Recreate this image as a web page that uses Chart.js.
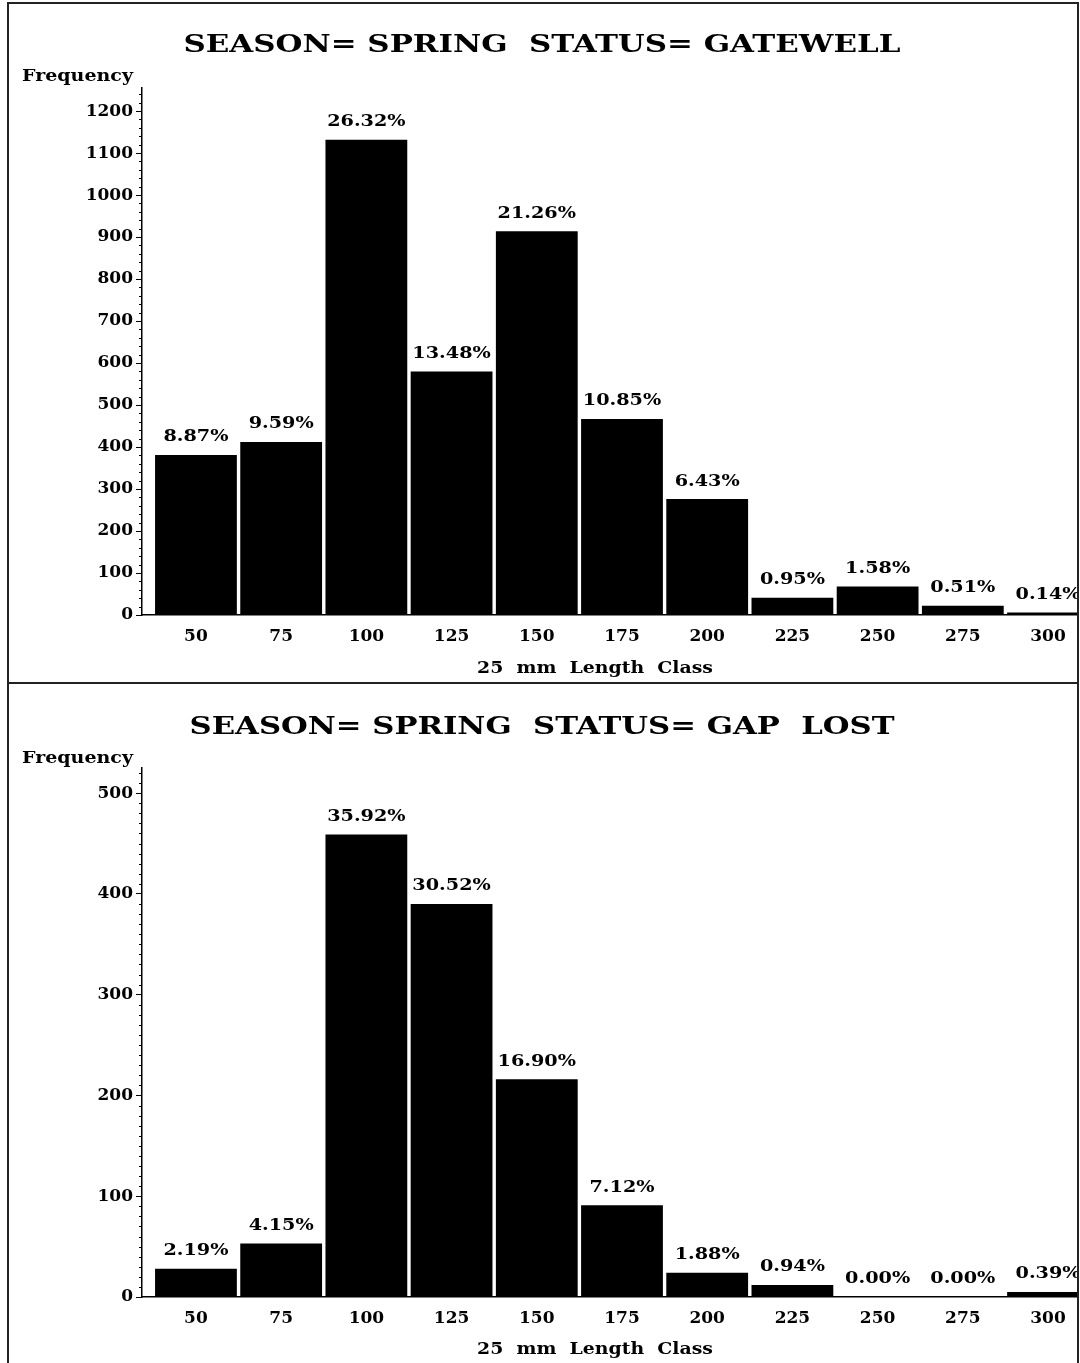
<!DOCTYPE html>
<html>
<head>
<meta charset="utf-8">
<script src="https://cdn.jsdelivr.net/npm/chart.js@4/dist/chart.umd.min.js"></script>
<style>
  body { margin: 0; background: #fff; width: 1080px; height: 1363px; overflow: hidden; }
  .frame { position: absolute; left: 7px; top: 2px; width: 1068px; height: 1361px;
           border-left: 2px solid #222; border-top: 2px solid #222; border-right: 2px solid #222; }
  .sep { position: absolute; left: 9px; top: 682px; width: 1068px; height: 2px; background: #222; }
  canvas { position: absolute; left: 9px; }
  #gatewell { top: 4px; }
  #gaplost { top: 684px; }
</style>
</head>
<body>
<div class="frame"></div>
<div class="sep"></div>
<canvas id="gatewell" width="1068" height="678"></canvas>
<canvas id="gaplost" width="1068" height="679"></canvas>
<script>
// 25 mm length classes (bin midpoints)
var lengthClasses = [50, 75, 100, 125, 150, 175, 200, 225, 250, 275, 300];

// SEASON=SPRING STATUS=GATEWELL
var gatewellCounts = [381, 412, 1132, 580, 914, 467, 276, 41, 68, 22, 6];
var gatewellPct = ['8.87%', '9.59%', '26.32%', '13.48%', '21.26%', '10.85%', '6.43%', '0.95%', '1.58%', '0.51%', '0.14%'];

// SEASON=SPRING STATUS=GAP LOST
var gapLostCounts = [28, 53, 459, 390, 216, 91, 24, 12, 0, 0, 5];
var gapLostPct = ['2.19%', '4.15%', '35.92%', '30.52%', '16.90%', '7.12%', '1.88%', '0.94%', '0.00%', '0.00%', '0.39%'];

var serif = '"DejaVu Serif", "Liberation Serif", serif';

// draw text stretched horizontally (the original uses a wide bitmap serif)
var wideText = (ctx, text, x, y, sx) => {
    ctx.save();
    ctx.translate(x, y);
    ctx.scale(sx, 1);
    ctx.fillText(text, 0, 0);
    ctx.restore();
};

// minor ticks on y axis, percent labels above bars, titles
var decor = {
    id: 'decor',
    afterDatasetsDraw: (chart) => {
        var o = chart.options.plugins.decor;
        var ctx = chart.ctx;
        var meta = chart.getDatasetMeta(0);
        ctx.save();
        ctx.fillStyle = '#000';
        ctx.font = 'bold 17px ' + serif;
        ctx.textAlign = 'center';
        ctx.textBaseline = 'middle';
        meta.data.forEach((bar, i) => {
            wideText(ctx, o.pct[i], bar.x, bar.y - 18, 1.13);
        });
        ctx.restore();
    },
    afterDraw: (chart) => {
        var o = chart.options.plugins.decor;
        var ctx = chart.ctx;
        var y = chart.scales.y;
        ctx.save();
        ctx.strokeStyle = '#000';
        ctx.lineWidth = 1;
        for (var v = 0; v <= y.max; v += o.minor) {
            if (v % 100 == 0) continue;
            var py = Math.round(y.getPixelForValue(v)) + 0.5;
            ctx.beginPath();
            ctx.moveTo(y.right - 3, py);
            ctx.lineTo(y.right, py);
            ctx.stroke();
        }
        ctx.fillStyle = '#000';
        ctx.textBaseline = 'middle';
        ctx.textAlign = 'center';
        ctx.font = 'bold 25px ' + serif;
        wideText(ctx, o.title, 533, o.titleY, o.titleWidth / ctx.measureText(o.title).width);
        ctx.textAlign = 'left';
        ctx.font = 'bold 17px ' + serif;
        wideText(ctx, 'Frequency', 13, o.freqY, 111 / ctx.measureText('Frequency').width);
        ctx.textAlign = 'center';
        ctx.font = 'bold 17px ' + serif;
        wideText(ctx, '25  mm  Length  Class', 586, o.xTitleY, 236 / ctx.measureText('25  mm  Length  Class').width);
        ctx.restore();
    }
};

var makeChart = (id, title, titleWidth, counts, pct, yMax, minor, top, xHeight, titleY, freqY, xTitleY) => {
    var ctx = document.getElementById(id).getContext('2d');
    return new Chart(ctx, {
        type: 'bar',
        data: {
            datasets: [{
                data: lengthClasses.map((c, i) => ({ x: c, y: counts[i] })),
                backgroundColor: '#000',
                borderWidth: 0,
                barPercentage: 0.96,
                categoryPercentage: 1
            }]
        },
        options: {
            responsive: false,
            animation: false,
            layout: { padding: { top: top, left: 0, right: 0, bottom: 0 } },
            plugins: {
                legend: { display: false },
                tooltip: { enabled: false },
                decor: { pct: pct, minor: minor, title: title, titleWidth: titleWidth,
                         titleY: titleY, freqY: freqY, xTitleY: xTitleY }
            },
            scales: {
                x: {
                    type: 'linear',
                    offset: false,
                    min: 34.17,
                    max: 308.5,
                    afterBuildTicks: (s) => { s.ticks = lengthClasses.map((v) => ({ value: v })); },
                    afterFit: (s) => { s.height = xHeight; },
                    grid: { display: false, drawTicks: false },
                    border: { display: true, color: '#000', width: 1.5 },
                    ticks: {
                        color: '#000',
                        padding: 11,
                        maxRotation: 0,
                        font: { family: serif, size: 17, weight: 'bold' },
                        callback: (v) => String(v)
                    }
                },
                y: {
                    min: 0,
                    max: yMax,
                    afterFit: (s) => { s.width = 133; },
                    grid: { drawOnChartArea: false, tickLength: 6, color: '#000' },
                    border: { display: true, color: '#000', width: 1.5 },
                    ticks: {
                        stepSize: 100,
                        includeBounds: false,
                        color: '#000',
                        padding: 3,
                        font: { family: serif, size: 17, weight: 'bold' },
                        callback: (v) => String(v)
                    }
                }
            }
        },
        plugins: [decor]
    });
};

makeChart('gatewell', 'SEASON= SPRING  STATUS= GATEWELL', 717, gatewellCounts, gatewellPct, 1255, 20, 84, 67, 41, 73, 665);
makeChart('gaplost', 'SEASON= SPRING  STATUS= GAP  LOST', 705, gapLostCounts, gapLostPct, 525, 10, 84, 66, 43, 75, 666);
</script>
</body>
</html>
